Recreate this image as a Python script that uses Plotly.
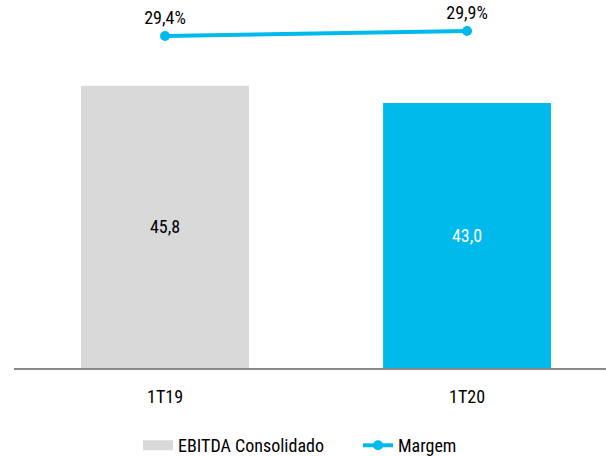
import plotly.graph_objects as go

# data
periodos = ['1T19', '1T20']
ebitda = [45.8, 43.0]
margem = [29.4, 29.9]

CINZA = '#D9D9D9'
AZUL = '#00BAEC'
FONTE = 'Roboto Condensed, Liberation Sans Narrow, Roboto, sans-serif'

fig = go.Figure()

fig.add_trace(go.Bar(
    x=periodos, y=ebitda, name='EBITDA Consolidado',
    marker=dict(color=[CINZA, AZUL], line=dict(width=0)),
    width=0.556,
    texttemplate='%{y:.1f}', textposition='inside',
    insidetextanchor='middle',
    textfont=dict(color=['#000000', '#FFFFFF'], size=18, family=FONTE),
    showlegend=False,
))

# legend-only entry so the swatch is a wide gray rectangle like the original
fig.add_trace(go.Scatter(
    x=[None], y=[None], name='EBITDA Consolidado', mode='lines',
    line=dict(color=CINZA, width=11),
))

fig.add_trace(go.Scatter(
    x=periodos, y=margem, name='Margem', yaxis='y2',
    mode='lines+markers+text',
    line=dict(color=AZUL, width=4),
    marker=dict(color=AZUL, size=10),
    texttemplate='%{y:.1f}%', textposition='top center',
    textfont=dict(color='#000000', size=18, family=FONTE),
    cliponaxis=False,
))

fig.update_layout(
    width=606, height=456,
    margin=dict(l=14, r=0, t=10, b=88, autoexpand=False),
    plot_bgcolor='white', paper_bgcolor='white',
    separators=',.',
    font=dict(family=FONTE, size=18, color='#000000'),
    xaxis=dict(range=[-0.5, 1.46], showline=True, linecolor='#898989',
               linewidth=2, ticks='', showgrid=False, zeroline=False,
               ticklabelstandoff=11, tickfont=dict(size=18)),
    yaxis=dict(range=[0, 58.1], visible=False, showgrid=False),
    yaxis2=dict(range=[-3.8, 32.0], overlaying='y', visible=False,
                showgrid=False),
    legend=dict(orientation='h', x=0.2095, xanchor='left', y=-0.165,
                yanchor='top', font=dict(size=18), entrywidth=175,
                entrywidthmode='pixels', traceorder='normal'),
)

# page has a default body margin; drop it so the chart sits at the corner
fig.write_html('out.html', config={'displayModeBar': False},
               post_script="document.body.style.margin='0';")
